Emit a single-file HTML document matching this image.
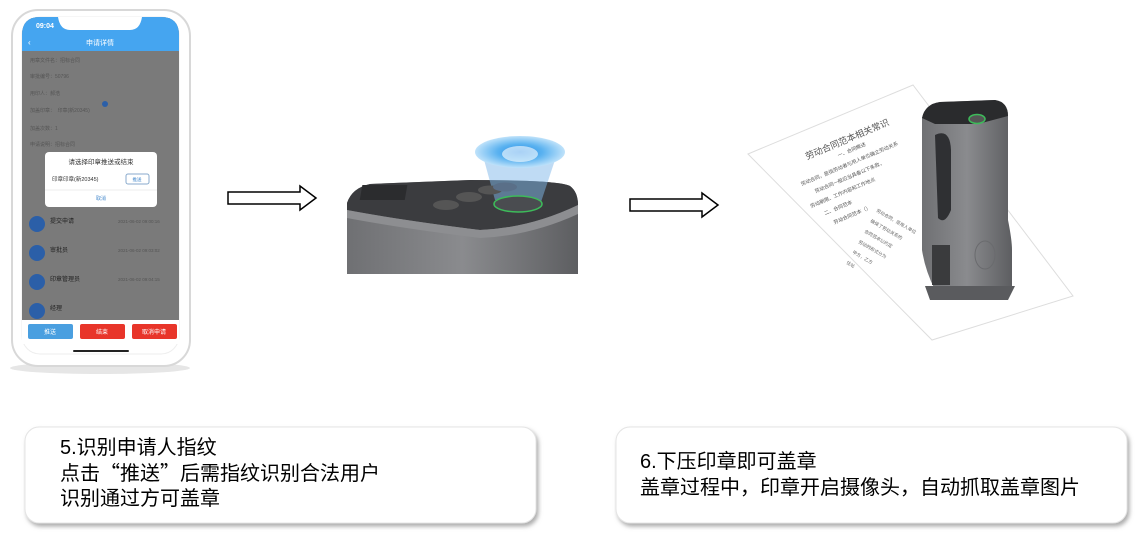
<!DOCTYPE html>
<html><head><meta charset="utf-8"><style>
html,body{margin:0;padding:0;background:#fff;width:1139px;height:536px;overflow:hidden}
svg{display:block}
.t{font-family:"Liberation Sans","Noto Sans CJK SC",sans-serif}
.q{font-family:"Noto Sans CJK SC",sans-serif}
</style></head><body>
<svg width="1139" height="536" viewBox="0 0 1139 536" class="t">
<defs>
<linearGradient id="dev" x1="0" x2="1"><stop offset="0" stop-color="#6f7073"/><stop offset="0.5" stop-color="#8a8b8e"/><stop offset="1" stop-color="#5d5e61"/></linearGradient>
<radialGradient id="glow"><stop offset="0" stop-color="#2a8ee8"/><stop offset="0.5" stop-color="#5ab2f0"/><stop offset="1" stop-color="#bfe2fa"/></radialGradient>
<filter id="sh" x="-5%" y="-10%" width="110%" height="130%"><feDropShadow dx="2" dy="3" stdDeviation="2" flood-color="#888" flood-opacity="0.7"/></filter>
</defs>
<!-- phone -->
<ellipse cx="100" cy="368" rx="90" ry="6" fill="#e6e6e6"/>
<rect x="12" y="10" width="178" height="356" rx="26" fill="#fff" stroke="#d8d8d8" stroke-width="2"/>
<rect x="22" y="17" width="157" height="337" rx="18" fill="#fff" stroke="#eee"/>
<path d="M22 320 V35 Q22 17 40 17 H161 Q179 17 179 35 V320 Z" fill="#7a7a7a"/>
<path d="M22 51 V35 Q22 17 40 17 H161 Q179 17 179 35 V51 Z" fill="#45a5f0"/>
<path d="M58 17 Q60 30 70 30 H130 Q140 30 142 17 Z" fill="#fff"/>
<text x="36" y="28" font-size="7" fill="#fff" font-weight="bold">09:04</text>
<text x="100" y="45" font-size="7" fill="#fff" text-anchor="middle">申请详情</text>
<text x="28" y="45" font-size="8" fill="#fff">‹</text>
<g font-size="5" fill="#555">
<text x="30" y="62">用章文件名：招标合同</text><text x="30" y="78">审批编号：50796</text>
<text x="30" y="95">用印人：郝浩</text><text x="30" y="112">加盖印章：　印章(新20345)</text>
<text x="30" y="130">加盖次数：1</text><text x="30" y="146">申请说明：招标合同</text>
</g>
<circle cx="105" cy="104" r="3" fill="#2b5fa8"/>
<rect x="45" y="152" width="112" height="55" rx="4" fill="#fff"/>
<text x="101" y="164" font-size="6.5" fill="#333" text-anchor="middle">请选择印章推送或结束</text>
<text x="52" y="181" font-size="5.5" fill="#333">印章印章(新20345)</text>
<rect x="126" y="174" width="23" height="10" rx="2" fill="#fff" stroke="#8ac"/>
<text x="137" y="181" font-size="4.5" fill="#48c" text-anchor="middle">推送</text>
<line x1="45" y1="190" x2="157" y2="190" stroke="#eee"/>
<text x="101" y="200" font-size="5" fill="#48c" text-anchor="middle">取消</text>
<g font-size="6" fill="#222">
<circle cx="37" cy="224" r="8" fill="#2b5fa8"/><text x="50" y="223">提交申请</text>
<circle cx="37" cy="253" r="8" fill="#2b5fa8"/><text x="50" y="252">审批员</text>
<circle cx="37" cy="282" r="8" fill="#2b5fa8"/><text x="50" y="281">印章管理员</text>
<circle cx="37" cy="311" r="8" fill="#2b5fa8"/><text x="50" y="310">经理</text>
</g>
<g font-size="4.5" fill="#555"><text x="118" y="223">2021-06-02 09:00:16</text><text x="118" y="252">2021-06-02 09:03:02</text><text x="118" y="281">2021-06-02 09:04:15</text></g>
<rect x="22" y="320" width="157" height="24" fill="#fff"/>
<rect x="28" y="324" width="45" height="15" rx="2" fill="#4a9fe0"/>
<rect x="80" y="324" width="45" height="15" rx="2" fill="#e8352a"/>
<rect x="132" y="324" width="45" height="15" rx="2" fill="#e8352a"/>
<g font-size="6" fill="#fff" text-anchor="middle"><text x="50" y="334">推送</text><text x="102" y="334">结束</text><text x="154" y="334">取消申请</text></g>
<rect x="73" y="350" width="56" height="2" rx="1" fill="#222"/>
<!-- arrows -->
<path d="M228 192 H300 V186 L316 198 L300 210 V204 H228 Z" fill="#fff" stroke="#000" stroke-width="1.5"/>
<path d="M630 199 H702 V193 L718 205 L702 217 V211 H630 Z" fill="#fff" stroke="#000" stroke-width="1.5"/>
<!-- device 1 -->
<path d="M347 203 Q352 188 370 184 L470 180 Q560 180 570 186 Q578 192 578 205 V274 H347 Z" fill="url(#dev)"/>
<path d="M347 203 Q352 188 370 184 L470 180 Q560 180 570 186 Q578 192 578 205 Q530 228 480 230 Q400 220 347 210 Z" fill="#3b3c3f"/>
<path d="M347 210 Q400 220 480 230 Q530 228 578 205 V214 Q530 236 480 238 Q400 228 347 218 Z" fill="#8d8e91"/>
<polygon points="480,145 560,145 540,205 495,200" fill="#7fb8ea" opacity="0.5"/>
<ellipse cx="520" cy="152" rx="45" ry="16" fill="url(#glow)"/>
<ellipse cx="520" cy="154" rx="18" ry="8" fill="#fff" opacity="0.6"/>
<rect x="395" y="185" width="45" height="15" fill="#2b2c2e" transform="skewX(-10)"/>
<ellipse cx="446" cy="205" rx="13" ry="5" fill="#555"/>
<ellipse cx="469" cy="197" rx="13" ry="5" fill="#555"/>
<ellipse cx="490" cy="190" rx="12" ry="4.5" fill="#555"/>
<ellipse cx="505" cy="187" rx="12" ry="4.5" fill="#5a6f88"/>
<ellipse cx="518" cy="204" rx="24" ry="8" fill="#4a4c50" stroke="#3dbb5a" stroke-width="1.5"/>
<!-- paper & device 2 -->
<polygon points="748,154 913,85 1073,296 932,340" fill="#fff" stroke="#ddd"/>
<g transform="rotate(-23 830 150)" fill="#555">
<text x="805" y="150" font-size="9">劳动合同范本相关常识</text>
<g font-size="5">
<text x="835" y="160">一、合同概述</text>
<text x="790" y="172">劳动合同，是指劳动者与用人单位确立劳动关系</text>
<text x="800" y="184">劳动合同一般应当具备以下条款，</text>
<text x="790" y="196">劳动期限、工作内容和工作地点</text>
<text x="800" y="208">二、合同范本</text>
<text x="805" y="220">劳动合同范本（）</text>
</g>
</g>
<g transform="rotate(30 900 260)" font-size="4.5" fill="#666">
<text x="855" y="230">劳动合同，是用人单位</text><text x="855" y="242">确保了劳动关系的</text><text x="855" y="254">合同范本以约定</text><text x="855" y="266">劳动的形式分为</text><text x="855" y="278">甲方，乙方</text><text x="855" y="290">住址</text>
</g>
<path d="M922 118 Q925 104 940 102 L995 100 Q1008 102 1008 116 V220 Q1012 240 1012 250 V290 H935 Q925 270 922 250 Z" fill="url(#dev)"/>
<path d="M922 118 Q925 104 940 102 L995 100 Q1008 102 1008 116 L978 124 H935 Z" fill="#2a2b2d"/>
<ellipse cx="977" cy="119" rx="8" ry="4.5" fill="#555" stroke="#3dbb5a" stroke-width="1.5"/>
<path d="M935 135 Q950 128 951 150 V210 Q945 225 938 218 Z" fill="#2f3033"/>
<rect x="932" y="245" width="18" height="40" fill="#3a3b3d"/>
<ellipse cx="985" cy="255" rx="10" ry="14" fill="none" stroke="#6a6b6e"/>
<path d="M925 286 H1015 L1008 300 H930 Z" fill="#5a5b5e"/>
<!-- text boxes -->
<rect x="25" y="427" width="511" height="96" rx="14" fill="#fff" stroke="#e4e4e4" filter="url(#sh)"/>
<rect x="616" y="427" width="511" height="96" rx="14" fill="#fff" stroke="#e4e4e4" filter="url(#sh)"/>
<g font-size="20" fill="#000">
<text x="60" y="454">5.识别申请人指纹</text>
<text x="60" y="480">点击<tspan class="q">“</tspan>推送<tspan class="q">”</tspan>后需指纹识别合法用户</text>
<text x="60" y="505">识别通过方可盖章</text>
<text x="640" y="468">6.下压印章即可盖章</text>
<text x="640" y="494">盖章过程中，印章开启摄像头，自动抓取盖章图片</text>
</g>
</svg>
</body></html>
